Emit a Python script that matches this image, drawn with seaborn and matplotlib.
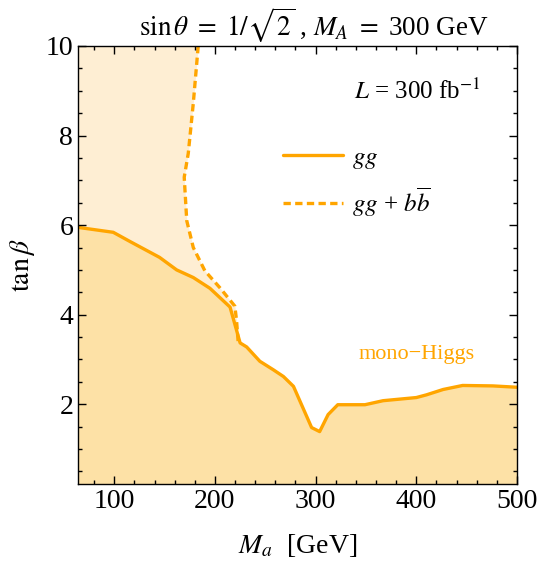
import matplotlib
matplotlib.use("Agg")
import matplotlib.pyplot as plt
import seaborn as sns
import pandas as pd

# gg curve (solid)
ma_gg = [64, 99, 116, 145, 162, 178.5, 195, 215, 225, 231.5, 244.6, 258, 268, 278,
         296, 304, 312.4, 322, 349, 367, 400, 410, 426.6, 446, 476, 500]
tb_gg = [5.95, 5.84, 5.63, 5.28, 5.0, 4.83, 4.59, 4.17, 3.37, 3.28, 2.96, 2.77, 2.62, 2.40,
         1.48, 1.39, 1.77, 1.99, 1.99, 2.08, 2.15, 2.21, 2.33, 2.42, 2.41, 2.38]

# gg + bb curve (dashed), from top down
ma_bb = [183.4, 178.5, 173.5, 169.5, 172, 178.5, 190, 205, 219.8, 221.5, 223]
tb_bb = [10.0, 8.72, 7.6, 7.07, 6.1, 5.5, 4.98, 4.6, 4.19, 3.86, 3.41]

df_gg = pd.DataFrame({"Ma": ma_gg, "tb": tb_gg})
df_bb = pd.DataFrame({"Ma": ma_bb, "tb": tb_bb})

sns.set_style("ticks")
plt.rcParams["font.family"] = ["Liberation Serif", "DejaVu Serif"]
plt.rcParams["mathtext.fontset"] = "stix"
plt.rcParams["text.color"] = "black"
plt.rcParams["axes.labelcolor"] = "black"
plt.rcParams["xtick.color"] = "black"
plt.rcParams["ytick.color"] = "black"
plt.rcParams["axes.edgecolor"] = "black"

orange = "#FFA500"
fill_dark = "#FDE1A6"
fill_light = "#FEEED3"
xmin, xmax = 64, 500
ymin, ymax = 0.22, 10

fig = plt.figure(figsize=(5.42, 5.67), dpi=100)
ax = fig.add_axes([0.1439, 0.1464, 0.81, 0.7725])

ax.fill_betweenx(df_bb["tb"], xmin, df_bb["Ma"], color=fill_light, lw=0)
ax.fill_between(df_gg["Ma"], ymin, df_gg["tb"], color=fill_dark, lw=0)

sns.lineplot(data=df_gg, x="Ma", y="tb", sort=False, estimator=None, color=orange,
             lw=2.4, label="$gg$", ax=ax)
sns.lineplot(data=df_bb, x="Ma", y="tb", sort=False, estimator=None, color=orange,
             lw=2.4, linestyle=(0, (2.2, 1.3)), label=r"$gg$ + $b\overline{b}$", ax=ax)

ax.set_xlim(xmin, xmax)
ax.set_ylim(ymin, ymax)
ax.set_axisbelow(False)
ax.set_xticks([100, 200, 300, 400, 500])
ax.set_xticks(range(80, 500, 20), minor=True)
ax.set_yticks([2, 4, 6, 8, 10])
ax.set_yticks([x / 2 for x in range(1, 20)], minor=True)
ax.tick_params(which="both", direction="in", top=True, right=True, labelsize=20, width=1)
ax.tick_params(which="major", length=6)
ax.tick_params(which="minor", length=3)
for s in ax.spines.values():
    s.set_linewidth(1)
    s.set_zorder(5)

ax.set_xlabel(r"$M_a$  [GeV]", fontsize=20, labelpad=13)
ax.set_ylabel(r"$\tan\beta$", fontsize=20, labelpad=6)
ax.set_title(r"$\sin\theta\ =\ 1/\sqrt{2}$ , $M_A\ =\ $300 GeV", fontsize=19.5, pad=7,
             x=0.537)

ax.text(400.5, 8.98, r"$L$ = 300 fb$^{-1}$", fontsize=18, ha="center", va="center")
ax.text(400, 3.12, "mono\u2212Higgs", fontsize=16, color=orange, ha="center", va="center")

ax.legend(loc="upper left", bbox_to_anchor=(0.416, 0.823), frameon=False, fontsize=18,
          handlelength=2.4, handletextpad=0.35, labelspacing=0.6)

fig.savefig("out.png", dpi=100)
